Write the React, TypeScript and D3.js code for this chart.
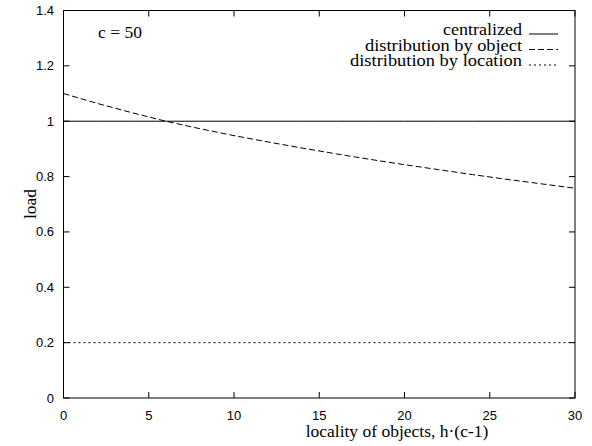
import React from "react";
import * as d3 from "d3";

const xTicks = [0, 5, 10, 15, 20, 25, 30];
const yTicks = [0, 0.2, 0.4, 0.6, 0.8, 1, 1.2, 1.4];
const yTickLabels = ["0", "0.2", "0.4", "0.6", "0.8", "1", "1.2", "1.4"];

const hValues = [0, 2, 4, 6, 8, 10, 12, 14, 16, 18, 20, 22, 24, 26, 28, 30];
const centralized = [1, 1, 1, 1, 1, 1, 1, 1, 1, 1, 1, 1, 1, 1, 1, 1];
const byObject = [1.1, 1.064, 1.031, 1.0, 0.973, 0.948, 0.925, 0.903, 0.882, 0.862, 0.843, 0.825, 0.807, 0.79, 0.774, 0.758];
const byLocation = [0.2, 0.2, 0.2, 0.2, 0.2, 0.2, 0.2, 0.2, 0.2, 0.2, 0.2, 0.2, 0.2, 0.2, 0.2, 0.2];

const seriesNames = ["centralized", "distribution by object", "distribution by location"];
const seriesDash = ["none", "6,3", "2,3"];

export default function App() {
  const W = 592, H = 446;
  const L = 63.5, R = 575, T = 10.5, B = 398;
  const x = d3.scaleLinear().domain([0, 30]).range([L, R]);
  const y = d3.scaleLinear().domain([0, 1.4]).range([B, T]);
  const line = d3.line<number>().x((_, i) => x(hValues[i])).y((d) => y(d));
  const series = [centralized, byObject, byLocation];
  const tl = 6;
  const sans = "'Liberation Sans', Arial, sans-serif";
  const serif = "'Liberation Serif', 'Times New Roman', serif";
  const legendW = [79, 157, 172];
  return (
    <svg width={W} height={H} style={{ position: "absolute", left: 0, top: 0 }}>
      <rect x={0} y={0} width={W} height={H} fill="white" />
      {series.map((s, i) => (
        <path key={i} d={line(s) || ""} fill="none" stroke="black" strokeWidth={1}
          strokeDasharray={seriesDash[i]} />
      ))}
      {xTicks.map((t) => (
        <g key={"x" + t}>
          <line x1={x(t)} x2={x(t)} y1={B} y2={B - tl} stroke="black" />
          <line x1={x(t)} x2={x(t)} y1={T} y2={T + tl} stroke="black" />
          <text x={x(t)} y={419.5} textAnchor="middle" fontFamily={sans} fontSize={13}>{t}</text>
        </g>
      ))}
      {yTicks.map((t, i) => (
        <g key={"y" + t}>
          <line x1={L} x2={L + tl} y1={y(t)} y2={y(t)} stroke="black" />
          <line x1={R} x2={R - tl} y1={y(t)} y2={y(t)} stroke="black" />
          <text x={54} y={y(t) + 4.5} textAnchor="end" fontFamily={sans} fontSize={13}>{yTickLabels[i]}</text>
        </g>
      ))}
      <rect x={L} y={T} width={R - L} height={B - T} fill="none" stroke="black" strokeWidth={1} />
      <text x={397} y={437} textAnchor="middle" fontFamily={serif} fontSize={17.5}>locality of objects, h·(c-1)</text>
      <text transform="translate(36,204) rotate(-90)" textAnchor="middle" fontFamily={serif} fontSize={17.5}>load</text>
      <text x={98} y={38} fontFamily={serif} fontSize={17.5}>c = 50</text>
      {seriesNames.map((n, i) => (
        <g key={n}>
          <text x={522} y={35 + i * 15.5} textAnchor="end" fontFamily={serif} fontSize={16}
            textLength={legendW[i]} lengthAdjust="spacingAndGlyphs">{n}</text>
          <line x1={529} x2={558} y1={34 + i * 15.5} y2={34 + i * 15.5} stroke="black" strokeWidth={1}
            strokeDasharray={seriesDash[i]} />
        </g>
      ))}
    </svg>
  );
}
